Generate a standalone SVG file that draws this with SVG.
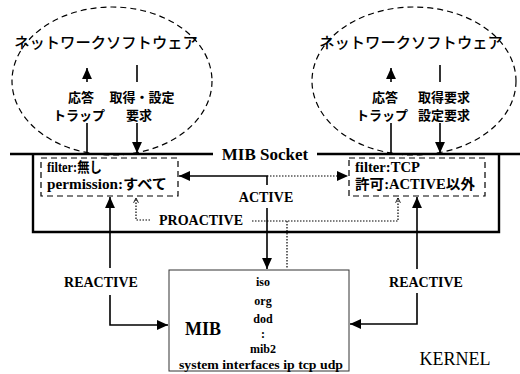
<svg xmlns="http://www.w3.org/2000/svg" width="520" height="374" viewBox="0 0 520 374">
<defs>
<style>
.jp{font-family:"Noto Sans CJK JP",sans-serif;font-weight:bold;fill:#000}
.tt{font-family:"Noto Sans CJK JP",sans-serif;font-weight:500;fill:#000}
.en{font-family:"Liberation Serif","Noto Sans CJK JP",serif;font-weight:bold;fill:#000}
.rg{font-family:"Liberation Serif",serif;font-weight:normal;fill:#000}
.ln{stroke:#000;stroke-width:1.6;fill:none}
.dot{stroke:#000;stroke-width:1.2;fill:none;stroke-dasharray:1.5 1.5}
.dash{stroke:#000;stroke-width:1.2;fill:none;stroke-dasharray:6 4}
.thick{stroke:#000;stroke-width:2.4;fill:none}
</style>
<marker id="ah2" viewBox="0 0 10 10" refX="10" refY="5" markerWidth="11" markerHeight="11" orient="auto" markerUnits="userSpaceOnUse">
<path d="M0,0.5 L10,5 L0,9.5 Z" fill="#000"/>
</marker>
<marker id="oh" viewBox="0 0 10 10" refX="9" refY="5" markerWidth="6" markerHeight="6" orient="auto" markerUnits="userSpaceOnUse">
<path d="M1,1 L9,5 L1,9" fill="none" stroke="#000" stroke-width="1.5"/>
</marker>
</defs>
<rect width="520" height="374" fill="#fff"/>

<g id="netsoft-left">
<ellipse class="dash" cx="112" cy="81" rx="100" ry="74"/>
<text class="tt" x="106" y="48" font-size="15.3" text-anchor="middle">ネットワークソフトウェア</text>
<text class="jp" x="81" y="102" font-size="13" text-anchor="middle">応答</text>
<text class="jp" x="79" y="120" font-size="13" text-anchor="middle">トラップ</text>
<text class="jp" x="142" y="102" font-size="13" text-anchor="middle">取得・設定</text>
<text class="jp" x="139" y="120" font-size="13" text-anchor="middle">要求</text>
</g>

<g id="netsoft-right">
<ellipse class="dash" cx="414" cy="81" rx="102" ry="74"/>
<text class="tt" x="411" y="48" font-size="15.3" text-anchor="middle">ネットワークソフトウェア</text>
<text class="jp" x="385" y="102" font-size="13" text-anchor="middle">応答</text>
<text class="jp" x="382" y="120" font-size="13" text-anchor="middle">トラップ</text>
<text class="jp" x="444" y="102" font-size="13" text-anchor="middle">取得要求</text>
<text class="jp" x="444" y="120" font-size="13" text-anchor="middle">設定要求</text>
</g>

<g id="kernel">
<path class="thick" d="M33,154 V232 H499 V154"/>
<line class="thick" x1="10" y1="154" x2="213" y2="154"/>
<line class="thick" x1="317" y1="154" x2="520" y2="154"/>
<text class="en" x="265" y="160" font-size="17" text-anchor="middle">MIB Socket</text>
<text class="rg" x="455" y="365" font-size="18" text-anchor="middle">KERNEL</text>
</g>

<g id="socket-left">
<rect class="dash" x="41" y="158" width="137" height="38" stroke-dasharray="4 3"/>
<text class="en" x="47" y="172" font-size="14" textLength="55" lengthAdjust="spacingAndGlyphs">filter:無し</text>
<text class="en" x="47" y="189" font-size="14" textLength="120" lengthAdjust="spacingAndGlyphs">permission:すべて</text>
</g>

<g id="socket-right">
<rect class="dash" x="349" y="158" width="136" height="38" stroke-dasharray="4 3"/>
<text class="en" x="355" y="172" font-size="14" textLength="65" lengthAdjust="spacingAndGlyphs">filter:TCP</text>
<text class="en" x="355" y="189" font-size="14" textLength="120" lengthAdjust="spacingAndGlyphs">許可:ACTIVE以外</text>
</g>

<g id="mib">
<rect x="169" y="270" width="180" height="101" fill="none" stroke="#333" stroke-width="1"/>
<text class="en" x="185" y="335" font-size="18">MIB</text>
<text class="en" x="263" y="286" font-size="12" text-anchor="middle">iso</text>
<text class="en" x="263" y="305" font-size="12" text-anchor="middle">org</text>
<text class="en" x="263" y="323" font-size="12" text-anchor="middle">dod</text>
<text class="en" x="263" y="338" font-size="12" text-anchor="middle">:</text>
<text class="en" x="263" y="353" font-size="12" text-anchor="middle">mib2</text>
<text class="en" x="261" y="369" font-size="12" text-anchor="middle" textLength="164" lengthAdjust="spacingAndGlyphs">system interfaces ip tcp udp</text>
</g>

<g id="connectors">
<line class="ln" x1="87" y1="82" x2="87" y2="68" marker-end="url(#ah2)"/>
<line class="ln" x1="87" y1="153" x2="87" y2="123"/>
<line class="ln" x1="137" y1="65" x2="137" y2="82"/>
<line class="ln" x1="137" y1="123" x2="137" y2="153" marker-end="url(#ah2)"/>
<line class="ln" x1="391" y1="82" x2="391" y2="68" marker-end="url(#ah2)"/>
<line class="ln" x1="391" y1="153" x2="391" y2="123"/>
<line class="ln" x1="440" y1="65" x2="440" y2="82"/>
<line class="ln" x1="440" y1="123" x2="440" y2="153" marker-end="url(#ah2)"/>
<path class="ln" d="M267,185 V176 H179" marker-end="url(#ah2)"/>
<line class="dot" x1="267" y1="176" x2="348" y2="176" stroke-width="1.6" marker-end="url(#ah2)"/>
<text class="en" x="266" y="202" font-size="14" text-anchor="middle">ACTIVE</text>
<line class="ln" x1="267" y1="208" x2="267" y2="269" marker-end="url(#ah2)"/>
<path class="dot" d="M150,220 H136 V198" marker-end="url(#oh)"/>
<text class="en" x="201" y="225" font-size="14" text-anchor="middle">PROACTIVE</text>
<path class="dot" d="M252,221 H398 V198" marker-end="url(#oh)"/>
<line class="dot" x1="287" y1="221" x2="287" y2="269"/>
<line class="ln" x1="110" y1="268" x2="110" y2="197" marker-end="url(#ah2)"/>
<text class="en" x="101" y="287" font-size="14" text-anchor="middle">REACTIVE</text>
<path class="ln" d="M110,295 V325 H168" marker-end="url(#ah2)"/>
<line class="ln" x1="417" y1="269" x2="417" y2="197" marker-end="url(#ah2)"/>
<text class="en" x="426" y="287" font-size="14" text-anchor="middle">REACTIVE</text>
<path class="ln" d="M417,293 V324 H350" marker-end="url(#ah2)"/>
</g>
</svg>
